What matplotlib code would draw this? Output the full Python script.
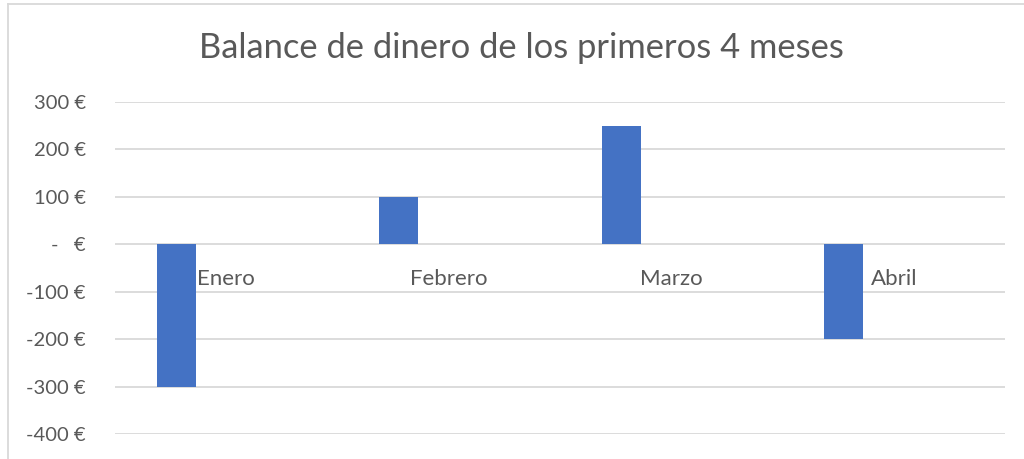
import matplotlib
matplotlib.use("Agg")
import matplotlib.pyplot as plt
from matplotlib.ticker import FuncFormatter
import numpy as np

months = ["Enero", "Febrero", "Marzo", "Abril"]
balance = [-300, 100, 250, -200]
y_ticks = [-400, -300, -200, -100, 0, 100, 200, 300]
title = "Balance de dinero de los primeros 4 meses"

plt.rcParams['font.family'] = ['Lato', 'DejaVu Sans']
text_color = "#595959"
grid_color = "#d9d9d9"
bar_color = "#4472C4"

fig = plt.figure(figsize=(10.24, 4.59), dpi=100)
ax = fig.add_axes([115/1024, 25/459, (1005-115)/1024, (434-102)/459])

x = np.arange(len(months))
ax.bar(x - 0.225, balance, width=0.175, color=bar_color, zorder=3)

ax.set_xlim(-0.5, len(months) - 0.5)
ax.set_ylim(-400, 300)
ax.set_yticks(y_ticks)

def fmt(v, pos):
    if v == 0:
        return "-   €"
    return f"{int(v)} €"

ax.yaxis.set_major_formatter(FuncFormatter(fmt))
ax.grid(axis='y', color=grid_color, linewidth=1.3, zorder=0)
for s in ax.spines.values():
    s.set_visible(False)
ax.spines['bottom'].set_position(('data', 0))
ax.set_xticks(x)
ax.set_xticklabels(months)
ax.tick_params(axis='x', length=0, pad=18, labelsize=16, labelcolor=text_color)
ax.tick_params(axis='y', length=0, pad=21, labelsize=14.5, labelcolor=text_color)

fig.text(521/1024, 1 - 48/459, title, ha='center', va='center',
         fontsize=24.8, color=text_color, fontweight='normal')

# chart border (partially visible)
fig.add_artist(plt.Line2D([7.5/1024, 7.5/1024], [0, 1 - 3.5/459], transform=fig.transFigure,
                          color=grid_color, linewidth=1.3))
fig.add_artist(plt.Line2D([7.5/1024, 1], [1 - 3.5/459, 1 - 3.5/459], transform=fig.transFigure,
                          color=grid_color, linewidth=1.3))

fig.savefig("out.png", dpi=100)
